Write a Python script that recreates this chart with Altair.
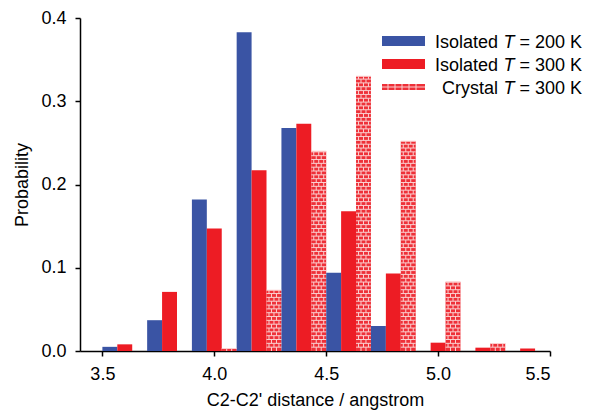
import altair as alt
import pandas as pd
import numpy as np

# ---- data ----
bin_left = [3.5, 3.7, 3.9, 4.1, 4.3, 4.5, 4.7, 4.9, 5.1, 5.3]
iso200 = [0.005, 0.037, 0.182, 0.383, 0.268, 0.094, 0.030, 0.0, 0.0, 0.0]
iso300 = [0.008, 0.071, 0.147, 0.217, 0.273, 0.168, 0.093, 0.010, 0.004, 0.003]
crystal = [0.0, 0.0, 0.003, 0.073, 0.240, 0.330, 0.252, 0.083, 0.009, 0.0]
series_names = ["Isolated T = 200 K", "Isolated T = 300 K", "Crystal T = 300 K"]
x_ticks = [3.5, 4.0, 4.5, 5.0, 5.5]
y_ticks = [0.0, 0.1, 0.2, 0.3, 0.4]

BLUE = "#3a54a4"
RED = "#ed1c24"
BRICK = "#ee3038"
MORTAR = "#fbd0d0"
FONT = "Liberation Sans"
FS = 18

bin_w = 0.2
sub_w = bin_w / 3

rows = []
for i, b in enumerate(bin_left):
    for j, (name, vals) in enumerate(zip(series_names, [iso200, iso300, crystal])):
        v = vals[i]
        if v <= 0:
            continue
        rows.append({"series": name, "x": b + j * sub_w, "x2": b + (j + 1) * sub_w, "val": v})
bars_df = pd.DataFrame(rows)

# brick pattern (mortar lines) drawn over the crystal bars
row_h = 0.0046
h_rows, v_rows = [], []
for i, b in enumerate(bin_left):
    v = crystal[i]
    if v <= 0:
        continue
    x0 = b + 2 * sub_w
    x1 = b + 3 * sub_w
    n = int(v / row_h)
    for k in range(n + 1):
        y0 = k * row_h
        if k > 0:
            h_rows.append({"x": x0, "x2": x1, "y": y0})
        y1 = min((k + 1) * row_h, v)
        fr = [1 / 3, 2 / 3] if k % 2 == 0 else [1 / 6, 1 / 2, 5 / 6]
        for f in fr:
            v_rows.append({"x": x0 + f * (x1 - x0), "y": y0, "y2": y1})
    h_rows.append({"x": x0, "x2": x1, "y": v})
h_df = pd.DataFrame(h_rows)
v_df = pd.DataFrame(v_rows)

xscale = alt.Scale(domain=[3.4, 5.5], nice=False, zero=False)
yscale = alt.Scale(domain=[0, 0.4], nice=False)

xaxis = alt.Axis(values=x_ticks, format=".1f", title="C2-C2' distance / angstrom",
                 grid=False, labelPadding=9, titlePadding=8)
yaxis = alt.Axis(values=y_ticks, format=".1f", title="Probability",
                 grid=False, labelPadding=9, titlePadding=9)

bars = alt.Chart(bars_df).mark_rect(strokeWidth=0).encode(
    x=alt.X("x:Q", scale=xscale, axis=xaxis),
    x2="x2:Q",
    y=alt.Y("val:Q", scale=yscale, axis=yaxis),
    y2=alt.datum(0),
    color=alt.Color("series:N", scale=alt.Scale(domain=series_names, range=[BLUE, RED, BRICK]), legend=None),
)

hlines = alt.Chart(h_df).mark_rule(color=MORTAR, strokeWidth=1).encode(
    x=alt.X("x:Q", scale=xscale), x2="x2:Q", y=alt.Y("y:Q", scale=yscale)
)
vlines = alt.Chart(v_df).mark_rule(color=MORTAR, strokeWidth=1).encode(
    x=alt.X("x:Q", scale=xscale), y=alt.Y("y:Q", scale=yscale), y2="y2:Q"
)

# ---- hand-built legend (for the italic T) ----
leg_prefix = ["Isolated", "Isolated", "Crystal"]
leg_suffix = ["= 200 K", "= 300 K", "= 300 K"]
leg_color = [BLUE, RED, BRICK]
leg_y_text = [30, 53, 76]
SX = 302
leg_sym = pd.DataFrame({
    "x": [SX] * 3, "x2": [SX + 43] * 3,
    "y": [18, 41, 66], "y2": [28, 51, 72],
    "c": leg_color,
})
sym = alt.Chart(leg_sym).mark_rect().encode(
    x=alt.X("x:Q", scale=None), x2="x2:Q",
    y=alt.Y("y:Q", scale=None), y2="y2:Q",
    color=alt.Color("c:N", scale=None),
)
sym_ticks = alt.Chart(pd.DataFrame({"x": [SX + d for d in [6, 13, 20, 27, 34]], "y": [66] * 5, "y2": [72] * 5})).mark_rule(
    color=MORTAR, strokeWidth=1).encode(
    x=alt.X("x:Q", scale=None), y=alt.Y("y:Q", scale=None), y2="y2:Q")
sym_h = alt.Chart(pd.DataFrame({"x": [SX], "x2": [SX + 43], "y": [69]})).mark_rule(
    color=MORTAR, strokeWidth=1).encode(
    x=alt.X("x:Q", scale=None), x2="x2:Q", y=alt.Y("y:Q", scale=None))

RIGHT = 502
txt_rows = []
for p, s, yy in zip(leg_prefix, leg_suffix, leg_y_text):
    txt_rows.append({"t": s, "x": RIGHT, "y": yy})
    txt_rows.append({"t": p, "x": RIGHT - 84, "y": yy})
txt = alt.Chart(pd.DataFrame(txt_rows)).mark_text(
    align="right", baseline="alphabetic", font=FONT, fontSize=FS, color="black").encode(
    x=alt.X("x:Q", scale=None), y=alt.Y("y:Q", scale=None), text="t:N")
tit = alt.Chart(pd.DataFrame({"t": ["T"] * 3, "x": [RIGHT - 67.5] * 3, "y": leg_y_text})).mark_text(
    align="right", baseline="alphabetic", font=FONT, fontSize=FS, fontStyle="italic", color="black").encode(
    x=alt.X("x:Q", scale=None), y=alt.Y("y:Q", scale=None), text="t:N")

chart = alt.layer(bars, hlines, vlines, sym, sym_ticks, sym_h, txt, tit).properties(
    width=470, height=333,
    autosize=alt.AutoSizeParams(type="none"),
    padding={"left": 72, "top": 10, "right": 33, "bottom": 59},
).configure_view(stroke=None).configure_axis(
    domainColor="black", domainWidth=1.5, tickColor="black", tickWidth=1.5, tickSize=5,
    labelFont=FONT, labelFontSize=FS, labelColor="black",
    titleFont=FONT, titleFontSize=FS, titleFontWeight="normal", titleColor="black",
)

chart.save("out.html", embed_options={"renderer": "svg", "actions": False})
